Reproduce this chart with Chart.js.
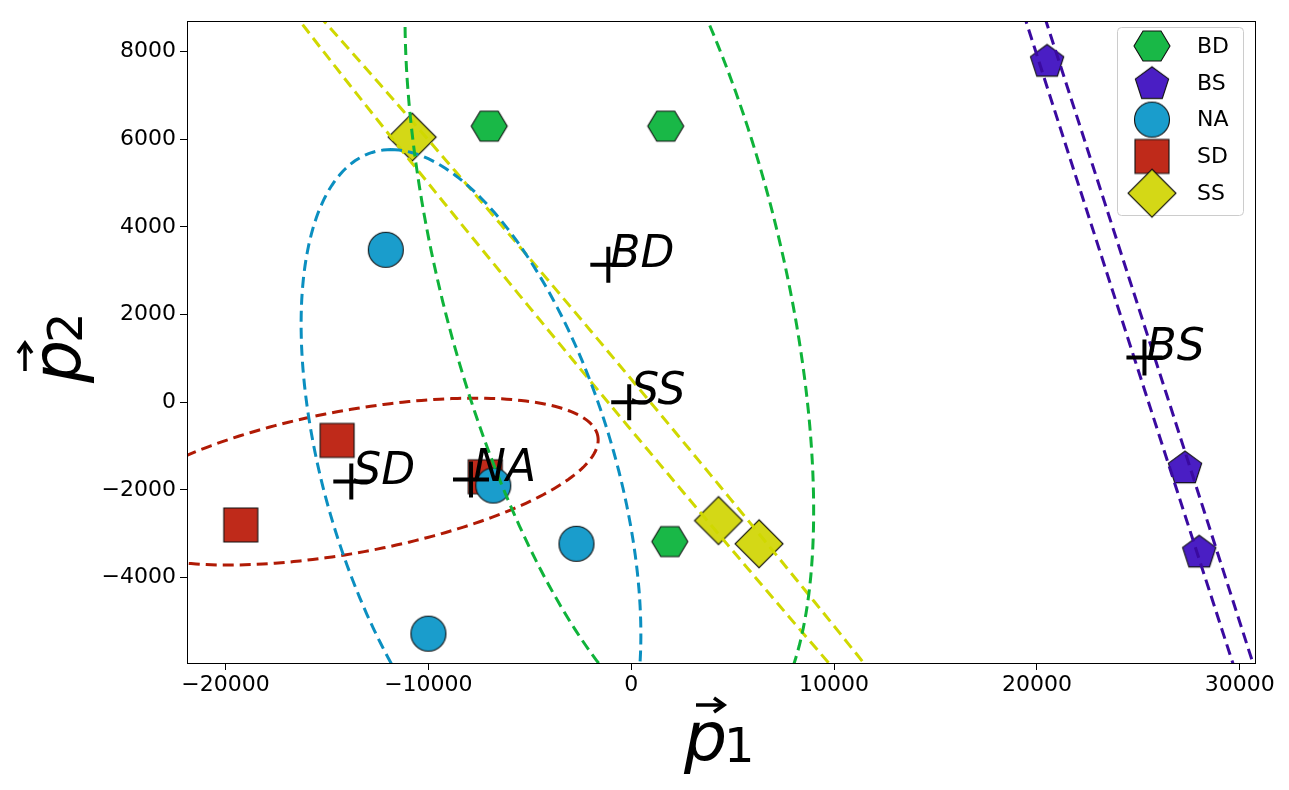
<!DOCTYPE html>
<html><head><meta charset="utf-8">
<script src="https://cdn.jsdelivr.net/npm/chart.js@4"></script>
<style>body{margin:0;background:#fff}canvas{display:block}</style>
</head><body>
<canvas id="c" width="1289" height="790"></canvas>
<script>
// ---- data ----
const classes = ['BD','BS','NA','SD','SS'];
const bdX = [-7000, 1700, 1900],        bdY = [6300, 6300, -3180];
const bsX = [20500, 27300, 28000],      bsY = [7800, -1480, -3400];
const naX = [-12100, -6800, -2700, -10000], naY = [3480, -1900, -3230, -5280];
const sdX = [-14500, -19250, -7200],    sdY = [-870, -2800, -1700];
const ssX = [-10800, 4300, 6300],       ssY = [6050, -2700, -3230];
const centX = [-1130, 25300, -7900, -13800, -100];
const centY = [3140, 1020, -1760, -1810, 0];
// ellipse: center, conjugate half-axis vectors A and B (data units)
const ellCx = [-1080, 25300, -7900, -13800, -100];
const ellCy = [3160, 1017, -1760, -1810, 0];
const ellAx = [5170, 23600, -3940, 12170, 18970];
const ellAy = [-10980, -33900, 7525, 950, -10550];
const ellBx = [8645, 507, 7390, 0, 1045];
const ellBy = [0, 0, 0, 1650, 0];
const xTicks = [-20000, -10000, 0, 10000, 20000, 30000];
const yTicks = [-4000, -2000, 0, 2000, 4000, 6000, 8000];

const fill = ['#19b847','#4a1ec4','#1a9dcc','#bf2a1a','#d4d816'];
const lineC = ['#0fb33a','#3a0aa0','#0b8fc0','#b01a05','#d0d800'];

function mk(shape, col){
  const s = 52, c = document.createElement('canvas'); c.width = s; c.height = s;
  const g = c.getContext('2d'); g.translate(s/2, s/2); g.beginPath();
  if (shape==='hex'){ const r=18; for(let i=0;i<6;i++){const a=i*Math.PI/3; g.lineTo(r*Math.cos(a), r*Math.sin(a)*0.96);} g.closePath(); }
  else if (shape==='pent'){ const r=17.5; for(let i=0;i<5;i++){const a=-Math.PI/2+i*2*Math.PI/5; g.lineTo(r*Math.cos(a), r*Math.sin(a)+1.5);} g.closePath(); }
  else if (shape==='circ'){ g.arc(0,0,17.5,0,2*Math.PI); }
  else if (shape==='sq'){ g.rect(-17,-17,34,34); }
  else { const r=24; g.moveTo(0,-r); g.lineTo(r,0); g.lineTo(0,r); g.lineTo(-r,0); g.closePath(); }
  g.fillStyle = col; g.fill(); g.lineWidth = 1.1; g.strokeStyle = '#111'; g.stroke();
  return c;
}
const shapes = ['hex','pent','circ','sq','dia'];
const icons = shapes.map((s,i)=>mk(s, fill[i]));
const xs = [bdX,bsX,naX,sdX,ssX], ys = [bdY,bsY,naY,sdY,ssY];

const datasets = [];
for (let k=0;k<5;k++){
  const pts=[];
  for(let i=0;i<=240;i++){const t=i/240*2*Math.PI;
    pts.push({x: ellCx[k]+ellAx[k]*Math.cos(t)+ellBx[k]*Math.sin(t), y: ellCy[k]+ellAy[k]*Math.cos(t)+ellBy[k]*Math.sin(t)});}
  datasets.push({data:pts, showLine:true, pointRadius:0, borderColor:lineC[k], borderWidth:3, borderDash:[11,6], order:0, fill:false, tension:0});
}
for (let k=0;k<5;k++){
  datasets.push({data: xs[k].map((x,i)=>({x, y: ys[k][i]})), pointStyle: icons[k], pointRadius: 20, order: 1, showLine:false});
}

const fmt = v => (v<0 ? '\u2212' + Math.abs(v) : String(v));

const deco = {
  id:'deco',
  afterDatasetsDraw(ch){
    const g = ch.ctx, xa = ch.scales.x, ya = ch.scales.y, a = ch.chartArea;
    g.save();
    g.beginPath(); g.rect(a.left,a.top,a.right-a.left,a.bottom-a.top); g.clip();
    for (let k=0;k<5;k++){
      const px = xa.getPixelForValue(centX[k]), py = ya.getPixelForValue(centY[k]);
      g.strokeStyle='#000'; g.lineWidth=4; g.beginPath();
      g.moveTo(px-18,py); g.lineTo(px+18,py); g.moveTo(px,py-18); g.lineTo(px,py+18); g.stroke();
      g.fillStyle='#000'; g.font='italic 44px "DejaVu Sans"'; g.textBaseline='alphabetic'; g.textAlign='left';
      g.fillText(classes[k], px+2, py+2);
    }
    g.restore();
    g.save();
    g.strokeStyle='#000'; g.lineWidth=1; g.strokeRect(a.left+0.5, a.top+0.5, a.right-a.left, a.bottom-a.top);
    // legend
    g.fillStyle='#fff'; g.strokeStyle='#ccc'; g.lineWidth=1;
    const lx=1117, ly=27, lw=126, lh=188;
    g.beginPath(); g.roundRect(lx+0.5,ly+0.5,lw,lh,4); g.fill(); g.stroke();
    g.font='22px "DejaVu Sans"'; g.fillStyle='#000'; g.textBaseline='middle';
    for (let k=0;k<5;k++){
      const cy = 46 + k*36.8;
      g.drawImage(icons[k], 1152-26, cy-26);
      g.fillText(classes[k], 1197, cy+1);
    }
    // axis titles
    function vec(x, y, sub){
      g.font='italic 68px "DejaVu Sans"'; g.textBaseline='alphabetic'; g.textAlign='left';
      g.fillText('p', x, y);
      g.lineWidth=3.5; g.beginPath(); g.moveTo(x+12, y-55); g.lineTo(x+38, y-55); g.stroke();
      g.beginPath(); g.moveTo(x+30,y-62); g.lineTo(x+40,y-55); g.lineTo(x+30,y-48); g.stroke();
      g.font='48px "DejaVu Sans"'; g.fillText(sub, x+40, y+2);
    }
    g.fillStyle='#000'; g.strokeStyle='#000';
    vec(684, 760, '1');
    g.translate(80, 345); g.rotate(-Math.PI/2); vec(-38, 0, '2');
    g.restore();
  }
};

new Chart(document.getElementById('c'), {
  type:'scatter',
  data:{datasets},
  options:{
    responsive:false, animation:false,
    layout:{padding:{left:0, right:34, top:15, bottom:87}},
    plugins:{legend:{display:false}, tooltip:{enabled:false}},
    scales:{
      x:{type:'linear', min:-21900, max:30750,
        afterBuildTicks: s => { s.ticks = xTicks.map(v=>({value:v})); },
        afterFit: s => { s.height = 40; },
        grid:{display:true, drawOnChartArea:false, tickLength:7, color:'#000'},
        border:{display:false},
        ticks:{color:'#000', font:{size:22, family:'"DejaVu Sans"'}, padding:2, callback: v=>fmt(v), maxRotation:0}},
      y:{type:'linear', min:-5950, max:8700,
        afterBuildTicks: s => { s.ticks = yTicks.map(v=>({value:v})); },
        afterFit: s => { s.width = 187; },
        grid:{display:true, drawOnChartArea:false, tickLength:7, color:'#000'},
        border:{display:false},
        ticks:{color:'#000', font:{size:22, family:'"DejaVu Sans"'}, padding:4, callback: v=>fmt(v)}}
    }
  },
  plugins:[deco]
});
</script>
</body></html>
